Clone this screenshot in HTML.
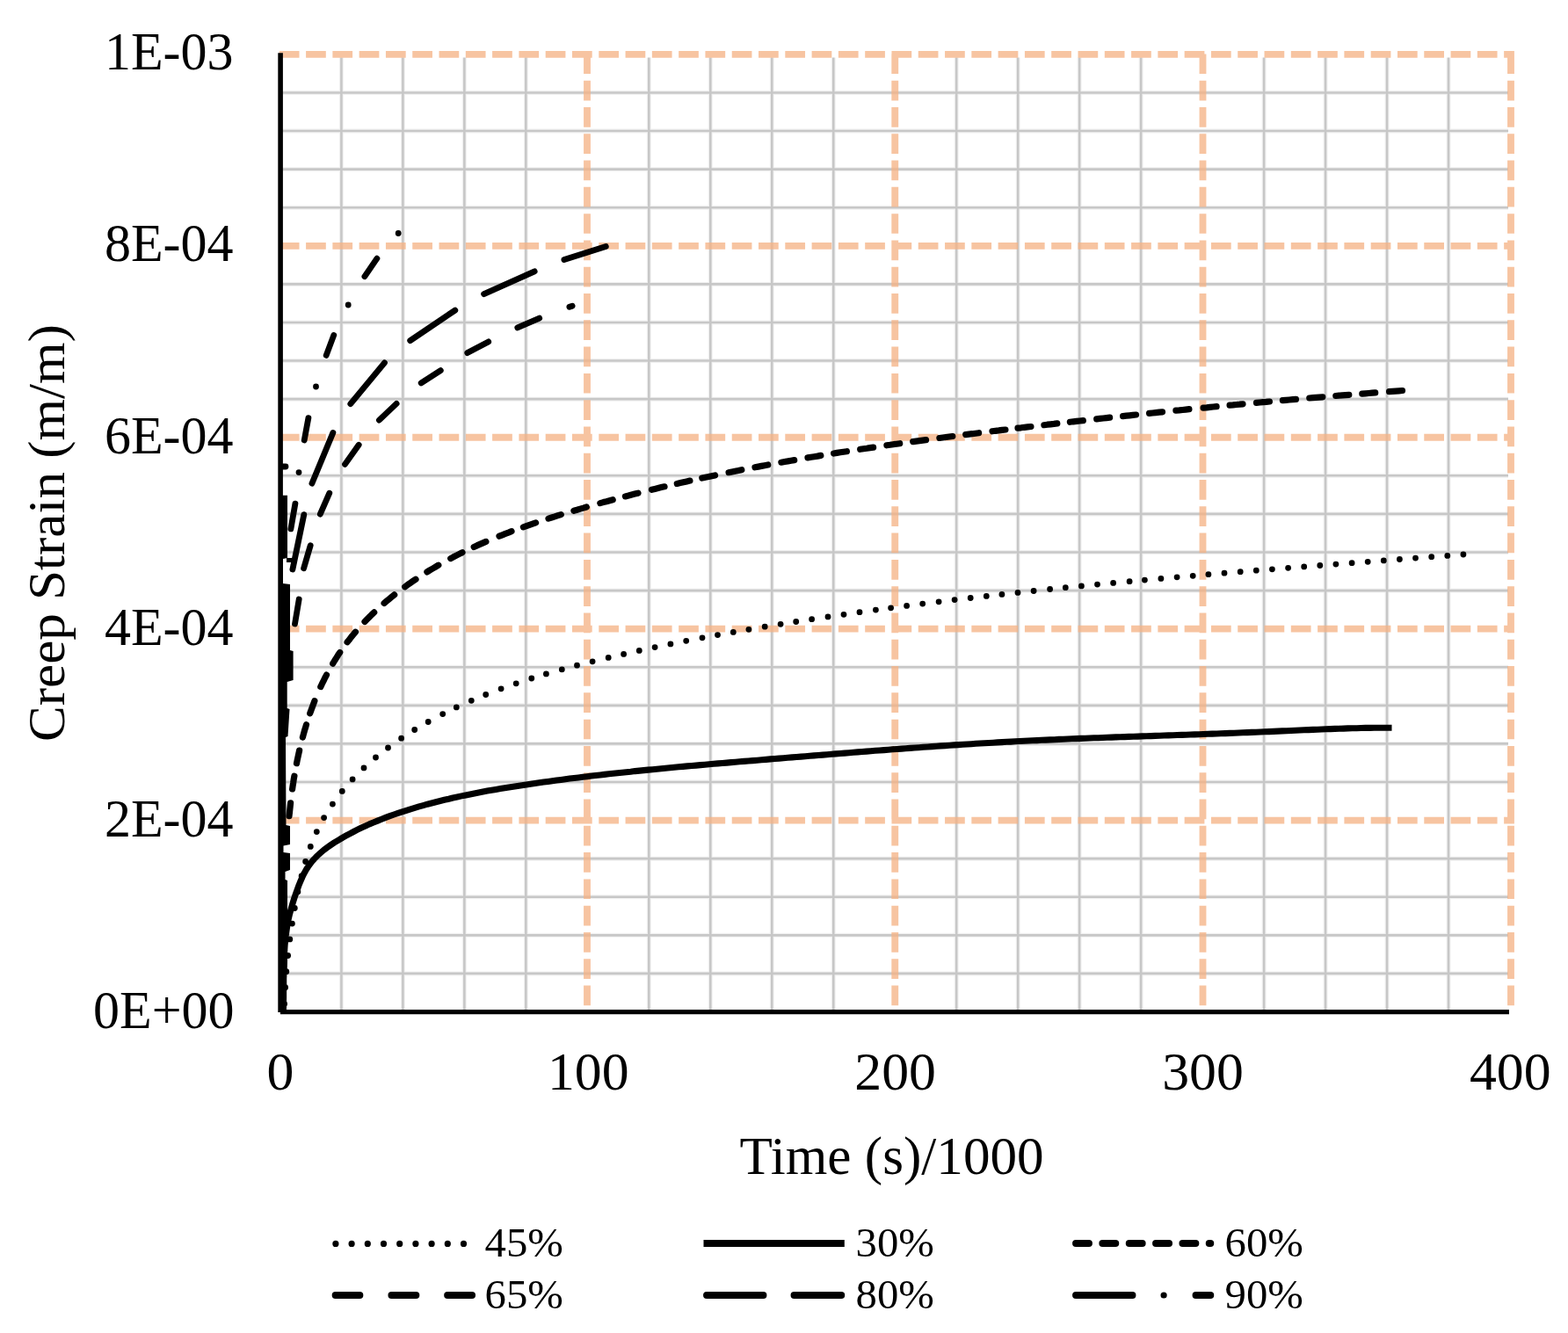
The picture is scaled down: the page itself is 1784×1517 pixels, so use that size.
<!DOCTYPE html>
<html lang="en">
<head>
<meta charset="utf-8">
<title>Creep Strain vs Time</title>
<style>
html,body{margin:0;padding:0;background:#fff;}
body{width:1784px;height:1517px;overflow:hidden;}
svg{display:block;}
</style>
</head>
<body>
<svg width="1784" height="1517" viewBox="0 0 1784 1517">
<rect width="1784" height="1517" fill="#fff"/>
<g>
<g fill="none" stroke="#000" opacity="0.06" stroke-width="5">
<path d="M388.40 65.40V1149.50M458.38 65.40V1149.50M528.36 65.40V1149.50M598.34 65.40V1149.50M738.30 65.40V1149.50M808.28 65.40V1149.50M878.26 65.40V1149.50M948.24 65.40V1149.50M1088.20 65.40V1149.50M1158.18 65.40V1149.50M1228.16 65.40V1149.50M1298.14 65.40V1149.50M1438.10 65.40V1149.50M1508.08 65.40V1149.50M1578.06 65.40V1149.50M1648.04 65.40V1149.50M321.10 1107.92H1716.00M321.10 1064.33H1716.00M321.10 1020.75H1716.00M321.10 977.16H1716.00M321.10 890.00H1716.00M321.10 846.41H1716.00M321.10 802.83H1716.00M321.10 759.24H1716.00M321.10 672.08H1716.00M321.10 628.49H1716.00M321.10 584.91H1716.00M321.10 541.32H1716.00M321.10 454.16H1716.00M321.10 410.57H1716.00M321.10 366.99H1716.00M321.10 323.40H1716.00M321.10 236.24H1716.00M321.10 192.65H1716.00M321.10 149.07H1716.00M321.10 105.48H1716.00"/>
</g>
<g fill="none" stroke="#000" opacity="0.17" stroke-width="2.6">
<path d="M388.40 65.40V1149.50M458.38 65.40V1149.50M528.36 65.40V1149.50M598.34 65.40V1149.50M738.30 65.40V1149.50M808.28 65.40V1149.50M878.26 65.40V1149.50M948.24 65.40V1149.50M1088.20 65.40V1149.50M1158.18 65.40V1149.50M1228.16 65.40V1149.50M1298.14 65.40V1149.50M1438.10 65.40V1149.50M1508.08 65.40V1149.50M1578.06 65.40V1149.50M1648.04 65.40V1149.50M321.10 1107.92H1716.00M321.10 1064.33H1716.00M321.10 1020.75H1716.00M321.10 977.16H1716.00M321.10 890.00H1716.00M321.10 846.41H1716.00M321.10 802.83H1716.00M321.10 759.24H1716.00M321.10 672.08H1716.00M321.10 628.49H1716.00M321.10 584.91H1716.00M321.10 541.32H1716.00M321.10 454.16H1716.00M321.10 410.57H1716.00M321.10 366.99H1716.00M321.10 323.40H1716.00M321.10 236.24H1716.00M321.10 192.65H1716.00M321.10 149.07H1716.00M321.10 105.48H1716.00"/>
</g>
<g fill="none" stroke="#f4b183" opacity="0.76" stroke-width="7.85" stroke-dasharray="22.72 7.57">
<path d="M317.8 933.58H1722.90M317.8 715.66H1722.90M317.8 497.74H1722.90M317.8 279.82H1722.90M317.8 61.90H1722.90M668.00 61.4V1151.50M1018.25 61.4V1151.50M1368.50 61.4V1151.50M1719.00 61.4V1151.50"/>
</g>
<g fill="none" stroke="#000" stroke-width="6.8" stroke-linejoin="round" stroke-linecap="round">
<path d="M322.4 1150L322.5 1145L322.5 1140L322.6 1135.1L322.6 1130.1L322.7 1125.1L322.7 1120.1L322.7 1115.1L322.7 1110.1L322.8 1105.1L322.9 1100.2L323 1095.2L323.2 1090.2L323.5 1085.2L323.8 1080.2L324.1 1075.3L324.6 1070.3L325.1 1065.3L325.8 1060.4L326.5 1055.5L327.4 1050.5L328.3 1045.6L329.4 1040.8L330.7 1036L332 1031.2L333.5 1026.4L335 1021.6L336.6 1016.9L338.3 1012.2L340 1007.5L341.9 1002.9L343.9 998.3L346 993.9L348.5 989.5L351.2 985.3L354.2 981.3L357.4 977.6L360.9 974L364.6 970.6L368.4 967.4L372.4 964.4L376.5 961.5L380.6 958.8L384.9 956.2L389.2 953.6L393.5 951.2L397.9 948.8L402.3 946.5L406.8 944.2L411.2 942L415.8 940L420.3 937.9L424.9 936L429.5 934.1L434.2 932.2L438.8 930.4L443.5 928.7L448.2 927L452.9 925.4L457.6 923.8L462.4 922.3L467.1 920.8L471.9 919.4L476.7 917.9L481.5 916.6L486.3 915.2L491.1 914L495.9 912.7L500.8 911.5L505.6 910.3L510.5 909.2L515.3 908L520.2 907L525.1 905.9L529.9 904.9L534.8 903.9L539.7 902.9L544.6 902L549.5 901L554.4 900.1L559.3 899.3L564.2 898.4L569.2 897.6L574.1 896.8L579 896L583.9 895.2L588.9 894.4L593.8 893.7L598.7 892.9L603.7 892.2L608.6 891.5L613.5 890.8L618.5 890.1L623.4 889.4L628.3 888.7L633.3 888L638.2 887.4L643.2 886.7L648.1 886.1L653.1 885.5L658 884.9L663 884.3L667.9 883.7L672.9 883.1L677.8 882.5L682.8 881.9L687.7 881.4L692.7 880.8L697.6 880.3L702.6 879.7L707.6 879.2L712.5 878.7L717.5 878.2L722.4 877.6L727.4 877.1L732.4 876.6L737.3 876.1L742.3 875.7L747.3 875.2L752.2 874.7L757.2 874.2L762.1 873.8L767.1 873.3L772.1 872.8L777 872.4L782 871.9L787 871.5L791.9 871.1L796.9 870.6L801.9 870.2L806.8 869.8L811.8 869.3L816.8 868.9L821.8 868.5L826.7 868.1L831.7 867.6L836.7 867.2L841.6 866.8L846.6 866.4L851.6 866L856.5 865.6L861.5 865.2L866.5 864.8L871.5 864.4L876.4 863.9L881.4 863.5L886.4 863.1L891.3 862.7L896.3 862.3L901.3 861.9L906.2 861.5L911.2 861.1L916.2 860.7L921.2 860.3L926.1 859.9L931.1 859.5L936.1 859.1L941 858.7L946 858.3L951 857.9L955.9 857.5L960.9 857.1L965.9 856.7L970.9 856.3L975.8 855.9L980.8 855.5L985.8 855.1L990.7 854.7L995.7 854.3L1000.7 854L1005.7 853.6L1010.6 853.2L1015.6 852.8L1020.6 852.5L1025.6 852.1L1030.5 851.7L1035.5 851.4L1040.5 851L1045.4 850.7L1050.4 850.3L1055.4 850L1060.4 849.6L1065.3 849.3L1070.3 848.9L1075.3 848.6L1080.3 848.3L1085.3 847.9L1090.2 847.6L1095.2 847.3L1100.2 847L1105.2 846.7L1110.1 846.3L1115.1 846L1120.1 845.7L1125.1 845.5L1130 845.2L1135 844.9L1140 844.6L1145 844.3L1150 844.1L1154.9 843.8L1159.9 843.5L1164.9 843.3L1169.9 843L1174.9 842.8L1179.8 842.6L1184.8 842.3L1189.8 842.1L1194.8 841.9L1199.8 841.7L1204.8 841.4L1209.7 841.2L1214.7 841L1219.7 840.8L1224.7 840.6L1229.7 840.4L1234.7 840.2L1239.6 840L1244.6 839.8L1249.6 839.7L1254.6 839.5L1259.6 839.3L1264.6 839.1L1269.5 838.9L1274.5 838.8L1279.5 838.6L1284.5 838.4L1289.5 838.2L1294.5 838.1L1299.4 837.9L1304.4 837.7L1309.4 837.6L1314.4 837.4L1319.4 837.2L1324.4 837L1329.3 836.9L1334.3 836.7L1339.3 836.5L1344.3 836.4L1349.3 836.2L1354.3 836L1359.2 835.9L1364.2 835.7L1369.2 835.5L1374.2 835.3L1379.2 835.1L1384.2 835L1389.1 834.8L1394.1 834.6L1399.1 834.4L1404.1 834.2L1409.1 834L1414.1 833.8L1419 833.6L1424 833.4L1429 833.2L1434 833L1439 832.8L1444 832.6L1448.9 832.4L1453.9 832.1L1458.9 831.9L1463.9 831.7L1468.9 831.5L1473.8 831.2L1478.8 831L1483.8 830.8L1488.8 830.6L1493.8 830.4L1498.8 830.2L1503.7 830L1508.7 829.8L1513.7 829.6L1518.7 829.4L1523.7 829.2L1528.7 829.1L1533.6 828.9L1538.6 828.8L1543.6 828.7L1548.6 828.5L1553.6 828.4L1558.6 828.4L1563.6 828.3L1568.5 828.2L1573.5 828.2L1578.5 828.2L1583.5 828.2" stroke-linecap="butt" stroke-width="7.1"/>
<path d="M323.6 1142.4h0.01M324.6 1123.7h0.01M325.8 1105.7h0.01M327.6 1087.5h0.01M329.8 1068.9h0.01M332.4 1051.1h0.01M335.3 1033.5h0.01M338.9 1015h0.01M343.1 996.9h0.01M347.6 980.5h0.01M353.3 963.4h0.01M360.3 946.6h0.01M368.6 930.6h0.01M378.4 915.1h0.01M389.3 900.4h0.01M401.1 886.9h0.01M414 873.9h0.01M427.5 862h0.01M441.5 851h0.01M456.6 840.2h0.01M471.7 830.5h0.01M487.2 821.5h0.01M503.7 812.6h0.01M519.3 804.9h0.01M536.3 797.3h0.01M552.7 790.5h0.01M570.1 783.8h0.01M587.2 777.8h0.01M604.8 772h0.01M621.4 766.9h0.01M639.3 761.8h0.01M656.5 757.2h0.01M674.1 752.8h0.01M692.2 748.4h0.01M709.6 744.4h0.01M727.3 740.4h0.01M745.1 736.6h0.01M762.9 732.9h0.01M780.7 729.3h0.01M799 725.8h0.01M816.5 722.6h0.01M834.3 719.4h0.01M851.9 716.3h0.01M870.2 713.2h0.01M888.1 710.3h0.01M905.7 707.5h0.01M923.6 704.7h0.01M942 701.9h0.01M960 699.3h0.01M978 696.7h0.01M996.4 694.1h0.01M1013.6 691.8h0.01M1031.6 689.4h0.01M1049.7 687.1h0.01M1068.1 684.8h0.01M1086.1 682.6h0.01M1104.2 680.5h0.01M1122.3 678.4h0.01M1139.9 676.4h0.01M1158 674.4h0.01M1176.1 672.5h0.01M1194.6 670.5h0.01M1212.3 668.7h0.01M1230.4 666.9h0.01M1248.5 665.1h0.01M1266.6 663.4h0.01M1285.1 661.7h0.01M1302.4 660.1h0.01M1320.9 658.4h0.01M1339.1 656.8h0.01M1357.2 655.3h0.01M1374.9 653.7h0.01M1393 652.2h0.01M1411.2 650.7h0.01M1429.3 649.2h0.01M1447.4 647.8h0.01M1465.6 646.3h0.01M1483.7 644.9h0.01M1501.8 643.5h0.01M1519.9 642.1h0.01M1538.1 640.7h0.01M1556.2 639.3h0.01M1574.3 637.9h0.01M1592.4 636.5h0.01M1610.5 635.1h0.01M1628.7 633.7h0.01M1646.8 632.4h0.01M1664.9 631h0.01" stroke-width="6.8"/>
<path d="M329 928.7L329.4 925L329.8 921.3L330.2 917.5L330.6 913.8M332.6 898L333.1 894.3L333.7 890.6L334.2 886.9L334.9 883.2M337.5 868.7L338.2 865.1L339 861.4L339.8 857.7L340.6 854.1M344.4 839L345.4 835.4L346.4 831.7L347.5 828.2L348.5 824.6M352.7 811.8L354 808.3L355.3 804.7L356.6 801.2L357.9 797.7M364.8 781.6L366.4 778.2L368.1 774.8L369.7 771.5L371.5 768.1M378.7 755.2L380.6 752L382.6 748.8L384.6 745.6L386.7 742.5M395.1 730.8L397.4 727.9L399.7 724.9L402.1 722L404.5 719.2M415 707.5L417.6 704.8L420.3 702.1L422.9 699.5L425.7 696.9M437.1 686.5L439.9 684.1L442.8 681.7L445.7 679.3L448.7 676.9M460.7 667.8L463.7 665.6L466.8 663.5L469.9 661.3L473 659.2M485.9 650.9L489.1 648.9L492.4 647L495.6 645.1L498.8 643.2M512.7 635.6L516 633.8L519.3 632.1L522.7 630.4L526 628.7M539.2 622.5L542.6 620.9L546 619.4L549.5 617.9L552.9 616.4M568 610.2L571.5 608.8L575 607.4L578.5 606.1L582 604.7M595.4 599.8L598.9 598.6L602.5 597.3L606 596.1L609.6 594.9M624 590.1L627.6 589L631.2 587.9L634.8 586.7L638.3 585.6M652.9 581.2L656.5 580.2L660.1 579.1L663.7 578.1L667.3 577M682.8 572.6L686.4 571.6L690 570.7L693.6 569.7L697.2 568.7M711.4 564.9L715.1 564L718.7 563L722.3 562.1L726 561.2M741.5 557.3L745.1 556.4L748.7 555.5L752.4 554.6L756 553.8M770.3 550.4L774 549.6L777.6 548.8L781.3 547.9L784.9 547.1M798.8 544L802.5 543.2L806.2 542.5L809.8 541.7L813.5 540.9M829.1 537.7L832.8 536.9L836.4 536.2L840.1 535.5L843.8 534.7M859 531.8L862.7 531.1L866.3 530.4L870 529.7L873.7 529M888.9 526.2L892.6 525.5L896.3 524.9L900 524.2L903.7 523.6M919 520.9L922.7 520.3L926.4 519.7L930.1 519.1L933.8 518.4M948.6 516L952.3 515.4L956 514.8L959.7 514.2L963.4 513.7M978.7 511.3L982.4 510.7L986.1 510.2L989.8 509.6L993.6 509.1M1008.9 506.8L1012.6 506.3L1016.3 505.7L1020 505.2L1023.7 504.7M1038.7 502.6L1042.4 502.1L1046.1 501.6L1049.8 501.1L1053.5 500.6M1068.9 498.5L1072.6 498L1076.3 497.5L1080 497L1083.8 496.5M1098.7 494.6L1102.4 494.1L1106.2 493.7L1109.9 493.2L1113.6 492.7M1129 490.8L1132.7 490.3L1136.4 489.9L1140.2 489.4L1143.9 489M1158 487.2L1161.7 486.8L1165.5 486.3L1169.2 485.9L1172.9 485.5M1187.9 483.7L1191.6 483.2L1195.4 482.8L1199.1 482.4L1202.8 481.9M1217.4 480.3L1221.1 479.8L1224.8 479.4L1228.6 479L1232.3 478.6M1247.7 476.8L1251.4 476.4L1255.2 476L1258.9 475.6L1262.6 475.2M1277.6 473.6L1281.4 473.2L1285.1 472.8L1288.8 472.4L1292.5 472M1307.6 470.4L1311.3 470L1315 469.6L1318.8 469.2L1322.5 468.8M1337.9 467.2L1341.7 466.9L1345.4 466.5L1349.1 466.1L1352.9 465.7M1369.1 464.1L1372.9 463.8L1376.6 463.4L1380.3 463L1384.1 462.7M1399.1 461.2L1402.8 460.9L1406.6 460.5L1410.3 460.2L1414 459.8M1429.5 458.4L1433.2 458L1436.9 457.7L1440.7 457.4L1444.4 457M1459.4 455.7L1463.2 455.3L1466.9 455L1470.7 454.7L1474.4 454.4M1489.8 453L1493.6 452.7L1497.3 452.4L1501 452.1L1504.8 451.8M1519.8 450.5L1523.5 450.2L1527.3 449.9L1531 449.6L1534.8 449.3M1549.8 448.1L1553.5 447.8L1557.3 447.5L1561 447.2L1564.7 446.9M1580.6 445.7L1584.3 445.4L1588.1 445.1L1591.8 444.8L1595.5 444.5" stroke-width="7.2"/>
<path d="M335.5 710L340.2 682M345.6 646.8L353.2 620.7M364.3 585.2L374.8 561.2M392.5 528.4L408.2 506.3M431.4 478.1L451.1 459.4M479.2 435.9L501.3 421.6M531.8 401.6L555.7 388.9M588.8 372.9L613.7 362.1M647.9 349.3L651.1 348.2"/>
<path d="M332.9 648L345.8 585.7M354.9 550.2L378.9 492.4M398.8 459.7L437.5 412.8M466.7 387.6L517.8 353.1M550.6 334.7L608.2 308.8M641.9 295.6L689.3 280.6"/>
<path d="M322 531L325 531M330.9 601.8L335.9 573.2M346.2 501L350.9 475.7M371.2 404.4L379.8 381.4M414.9 314.6L428.9 294.2"/>
<path d="M340 537.6h0.01M359.5 440h0.01M396.2 347h0.01M453.2 265.5h0.01" stroke-width="6.8"/>
</g>
<path d="M319.1 563.75L327 563.8L327 635L321.9 636L321.9 664L330 665L330 740L333.6 741L333.6 774L326.7 776L326.7 806L329.5 807L327.5 838L325 839L325.5 939L330 940L330 961L322.5 962.5L322.5 970L330 971L330 990L324.5 992L324.5 1001L327 1002L327 1094L324.4 1146L324.4 1152L319.1 1152Z" fill="#000"/>
<path d="M326 637.5H332" stroke="#000" stroke-width="5" fill="none"/>
<path d="M319.10 60.3V1152" stroke="#000" stroke-width="5.6" fill="none"/>
<path d="M318.90 1151.6H1717" stroke="#000" stroke-width="5.2" fill="none"/>
<g font-family="'Liberation Serif', serif" font-size="60" fill="#000">
<text transform="translate(266.5 1170.2) scale(1.0 1.01)" text-anchor="end">0E+00</text>
<text transform="translate(265.6 952.0) scale(1.0 1.01)" text-anchor="end">2E-04</text>
<text transform="translate(265.6 733.8) scale(1.0 1.01)" text-anchor="end">4E-04</text>
<text transform="translate(265.6 515.6) scale(1.0 1.01)" text-anchor="end">6E-04</text>
<text transform="translate(265.6 297.4) scale(1.0 1.01)" text-anchor="end">8E-04</text>
<text transform="translate(265.6 79.2) scale(1.0 1.01)" text-anchor="end">1E-03</text>
<text transform="translate(319.0 1239.7) scale(1.03 1.01)" text-anchor="middle">0</text>
<text transform="translate(669.3 1239.7) scale(1.03 1.01)" text-anchor="middle">100</text>
<text transform="translate(1018.6 1239.7) scale(1.03 1.01)" text-anchor="middle">200</text>
<text transform="translate(1368.5 1239.7) scale(1.03 1.01)" text-anchor="middle">300</text>
<text transform="translate(1718.3 1239.7) scale(1.03 1.01)" text-anchor="middle">400</text>
<text transform="translate(1014.6 1336.0) scale(1.02 1.01)" text-anchor="middle">Time (s)/1000</text>
<text transform="translate(72.8 606.6) rotate(-90) scale(1.018 1.0)" text-anchor="middle">Creep Strain (m/m)</text>
</g>
<g fill="none" stroke="#000" stroke-width="8.1" stroke-linecap="round">
<path d="M381.9 1415.4h0.01M400.1 1415.4h0.01M418.3 1415.4h0.01M436.5 1415.4h0.01M454.7 1415.4h0.01M472.9 1415.4h0.01M491.1 1415.4h0.01M509.3 1415.4h0.01M527.5 1415.4h0.01" stroke-width="7.2"/>
<path d="M800.5 1415H960.8" stroke-linecap="butt"/>
<path d="M1224.1 1415H1238.9M1254.4 1415H1269.2M1284.8 1415H1299.6M1315.1 1415H1330M1345.5 1415H1360.3M1375.8 1415H1377.2"/>
<path d="M381.7 1474H409.3M445.5 1474H473.3M509.2 1474H537"/>
<path d="M804.1 1474H868.4M903.6 1474H957.2"/>
<path d="M1224.1 1474H1288.4M1360.6 1474H1377.2"/>
<path d="M1324.1 1474h0.01" stroke-width="7.2"/>
</g>
<g font-family="'Liberation Serif', serif" font-size="46" fill="#000">
<text transform="translate(551.6 1429.5) scale(1.06 1.0)" text-anchor="start">45%</text>
<text transform="translate(973.6 1429.5) scale(1.06 1.0)" text-anchor="start">30%</text>
<text transform="translate(1393.6 1429.5) scale(1.06 1.0)" text-anchor="start">60%</text>
<text transform="translate(551.6 1488.7) scale(1.06 1.0)" text-anchor="start">65%</text>
<text transform="translate(973.6 1488.7) scale(1.06 1.0)" text-anchor="start">80%</text>
<text transform="translate(1393.6 1488.7) scale(1.06 1.0)" text-anchor="start">90%</text>
</g>
</g>
</svg>
</body>
</html>
